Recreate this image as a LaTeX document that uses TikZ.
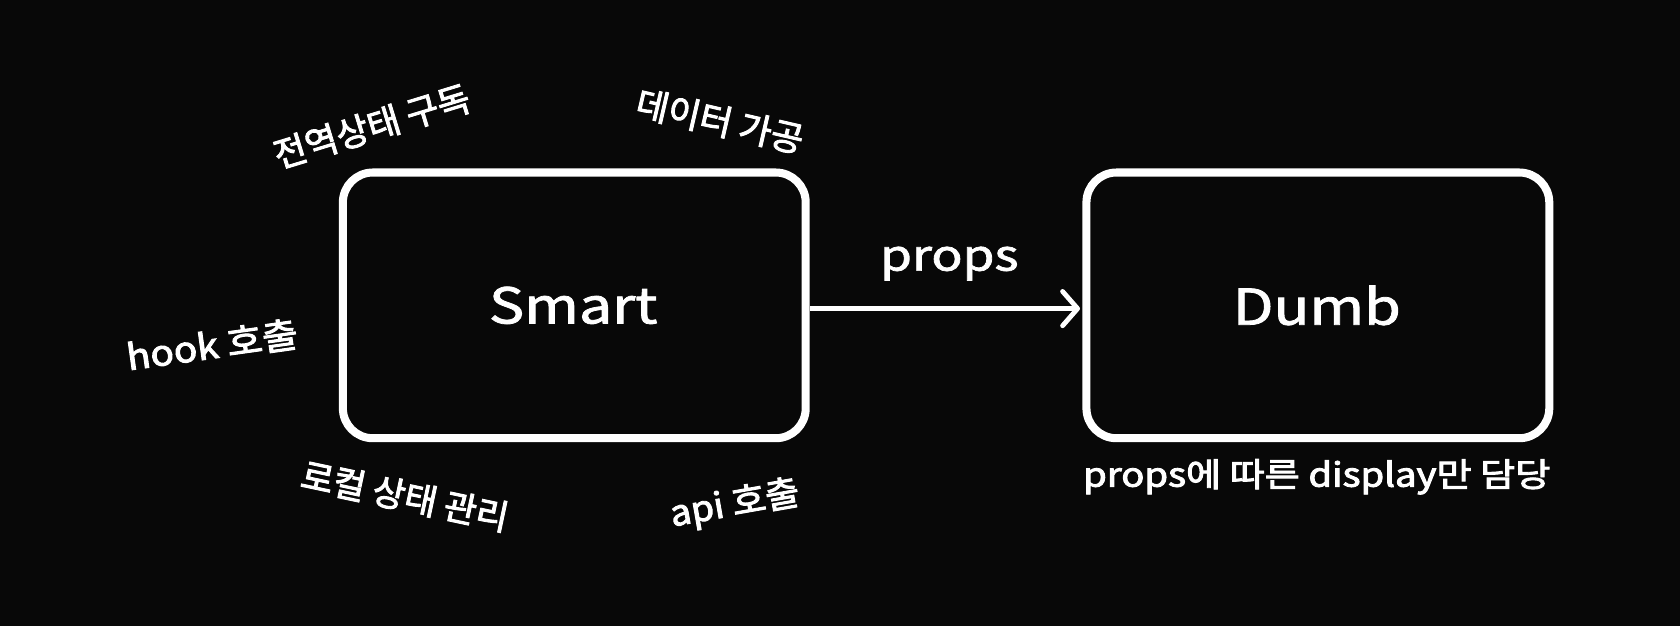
\documentclass[tikz,border=0pt]{standalone}
\usepackage{fontspec}
\setmainfont{Noto Sans CJK KR}
\newfontfamily\medfont{Noto Sans CJK KR}[FakeBold=1.6]
\newfontfamily\lblfont{Noto Sans CJK KR}[FakeBold=2.6]
\usetikzlibrary{arrows.meta}
\definecolor{bg}{RGB}{8,8,8}
\begin{document}
\begin{tikzpicture}[x=1pt,y=-1pt,
  boxst/.style={draw=white,line width=7.5pt,rounded corners=28pt,fill=bg},
  lbl/.style={text=white,font=\lblfont\fontsize{33}{36}\selectfont,inner sep=0pt},
  big/.style={text=white,font=\medfont\fontsize{46}{50}\selectfont,inner sep=0pt,xscale=1.2}]
\fill[bg] (0,0) rectangle (1568,584);
\useasboundingbox (0,0) rectangle (1568,584);
\draw[boxst] (320,161) rectangle (752,409);
\draw[boxst] (1014,161) rectangle (1446,409);
\node[big] (smart) at (535,285) {Smart};
\node[big] (dumb) at (1229,285) {Dumb};
\coordinate (sr) at (756,288);
\coordinate (dl) at (1008,288);
\draw[white,line width=4.5pt,-{Straight Barb[length=14pt,width=32pt,line width=4.5pt,round]}] (sr) -- (dl);
\node[text=white,font=\medfont\fontsize{40}{44}\selectfont,inner sep=0pt,xscale=1.2] (props) at (886,246) {props};
\node[lbl,rotate=17] (l1) at (347,118) {전역상태 구독};
\node[lbl,rotate=-13] (l2) at (672,113) {데이터 가공};
\node[lbl,rotate=8,xscale=1.1] (l3) at (198,322) {hook 호출};
\node[lbl,rotate=-12] (l4) at (378,463) {로컬 상태 관리};
\node[lbl,rotate=10,xscale=1.05] (l5) at (686,471) {api 호출};
\node[text=white,inner sep=0pt,font=\lblfont\fontsize{31}{34}\selectfont,xscale=1.15] (l6) at (1229,445) {props에 따른 display만 담당};
\end{tikzpicture}
\end{document}
